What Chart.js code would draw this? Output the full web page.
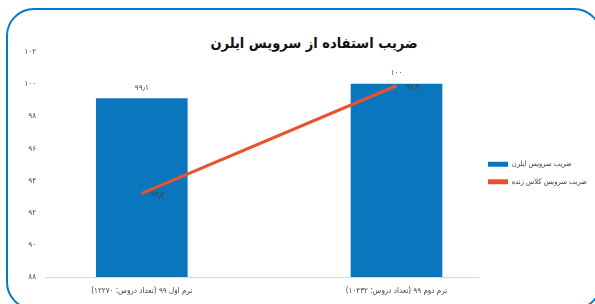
<!DOCTYPE html>
<html lang="fa">
<head>
<meta charset="utf-8">
<script src="https://cdn.jsdelivr.net/npm/chart.js@4/dist/chart.umd.min.js"></script>
<style>
  html, body { margin: 0; padding: 0; background: #fff; overflow: hidden; }
  body { width: 595px; height: 304px; position: relative; }
  #clip { position: absolute; left: 0; top: 0; width: 595px; height: 304px; overflow: hidden; }
  #frame {
    position: absolute; left: 6px; top: 8px; width: 596px; height: 302px;
    border: 2.5px solid #0a78c8; border-radius: 28px; box-sizing: border-box;
  }
  #title {
    position: absolute; top: 35px; left: 114px; width: 400px; text-align: center;
    font: bold 14.5px "DejaVu Sans Condensed", "DejaVu Sans", sans-serif; color: #111;
    direction: rtl; white-space: nowrap;
  }
  #wrap { position: absolute; left: 0; top: 0; width: 595px; height: 304px; }
</style>
</head>
<body>
<div id="clip"><div id="frame"></div></div>
<div id="title">ضریب استفاده از سرویس ایلرن</div>
<div id="wrap"><canvas id="chart" dir="rtl"></canvas></div>
<script>
// ─── Data ───────────────────────────────────────────────────────────────────
const categories = [
  'ترم اول ۹۹ (تعداد دروس: ۱۲۲۷۰)',
  'ترم دوم ۹۹ (تعداد دروس: ۱۰۴۳۲)'
];
const lernValues = [99.1, 100];   // ضریب سرویس ایلرن (bars)
const liveValues = [93.2, 99.9];  // ضریب سرویس کلاس زنده (line)
const seriesNames = ['ضریب سرویس ایلرن', 'ضریب سرویس کلاس زنده'];
const yTicks = [88, 90, 92, 94, 96, 98, 100, 102];

const BLUE = '#0a76be';
const RED = '#e8532b';
const FONT = '"DejaVu Sans Condensed", "DejaVu Sans", sans-serif';

// Persian digits
function toFa(n) {
  return String(n).replace(/\d/g, d => '۰۱۲۳۴۵۶۷۸۹'[d]).replace('.', '٫');
}

// Value labels drawn from the scales
const valueLabels = {
  id: 'valueLabels',
  afterDatasetsDraw(chart) {
    const ctx = chart.ctx;
    ctx.save();
    ctx.font = '8px ' + FONT;
    ctx.fillStyle = '#404040';
    ctx.textBaseline = 'middle';
    chart.getDatasetMeta(0).data.forEach((bar, i) => {
      ctx.textAlign = 'center';
      ctx.fillText(toFa(lernValues[i]), bar.x, bar.y - 11);
    });
    chart.getDatasetMeta(1).data.forEach((pt, i) => {
      ctx.textAlign = 'left';
      ctx.fillText(toFa(liveValues[i]), pt.x + 9, pt.y + 1);
    });
    ctx.restore();
  }
};

// Fixed legend width so the plot ends where the reference does,
// and nudge the legend up a little
const legendBox = {
  id: 'legendBox',
  beforeInit(chart) {
    const lg = chart.legend;
    if (!lg) return;
    const fit = lg.fit;
    lg.fit = function () { fit.call(this); this.width = 117; };
  },
  afterLayout(chart) {
    const lg = chart.legend;
    if (!lg) return;
    lg.top -= 5;
    lg.bottom -= 5;
  }
};

const ctx = document.getElementById('chart').getContext('2d');
new Chart(ctx, {
  data: {
    datasets: [{
      type: 'bar',
      label: seriesNames[0],
      data: lernValues.map((v, i) => ({ x: i, y: v })),
      backgroundColor: BLUE,
      barThickness: 91,
      order: 2,
    }, {
      type: 'line',
      label: seriesNames[1],
      data: liveValues.map((v, i) => ({ x: i, y: v })),
      borderColor: RED,
      backgroundColor: RED,
      borderWidth: 3,
      pointRadius: 0,
      tension: 0,
      order: 1,
    }]
  },
  options: {
    responsive: true,
    maintainAspectRatio: false,
    animation: false,
    layout: { padding: { top: 52, right: 0, bottom: 0, left: 0 } },
    plugins: {
      legend: {
        position: 'right',
        align: 'center',
        labels: {
          boxWidth: 20,
          boxHeight: 5,
          padding: 10,
          color: '#404040',
          font: { family: FONT, size: 7.5 },
          generateLabels(chart) {
            const items = Chart.defaults.plugins.legend.labels.generateLabels(chart);
            items.forEach(it => { it.lineWidth = 0; it.strokeStyle = 'transparent'; });
            return items.sort((a, b) => a.datasetIndex - b.datasetIndex);
          }
        }
      },
      tooltip: { enabled: false },
    },
    scales: {
      x: {
        type: 'linear',
        offset: false,
        min: -0.38,
        max: 1.32,
        grid: { display: false, drawTicks: false, offset: false },
        border: { display: true, color: '#d9d9d9', width: 1 },
        afterBuildTicks(scale) { scale.ticks = categories.map((_, i) => ({ value: i })); },
        afterFit(scale) { scale.height = 27; },
        ticks: {
          color: '#404040',
          padding: 9,
          maxRotation: 0,
          autoSkip: false,
          font: { family: FONT, size: 8 },
          callback: (v) => categories[v],
        }
      },
      y: {
        min: yTicks[0],
        max: yTicks[yTicks.length - 1],
        grid: { display: false, drawTicks: false },
        border: { display: false },
        afterBuildTicks(scale) { scale.ticks = yTicks.map(v => ({ value: v })); },
        afterFit(scale) { scale.width = 45; },
        ticks: {
          color: '#404040',
          padding: 9,
          font: { family: FONT, size: 8 },
          callback: (v) => toFa(v),
        }
      }
    }
  },
  plugins: [valueLabels, legendBox]
});
</script>
</body>
</html>
